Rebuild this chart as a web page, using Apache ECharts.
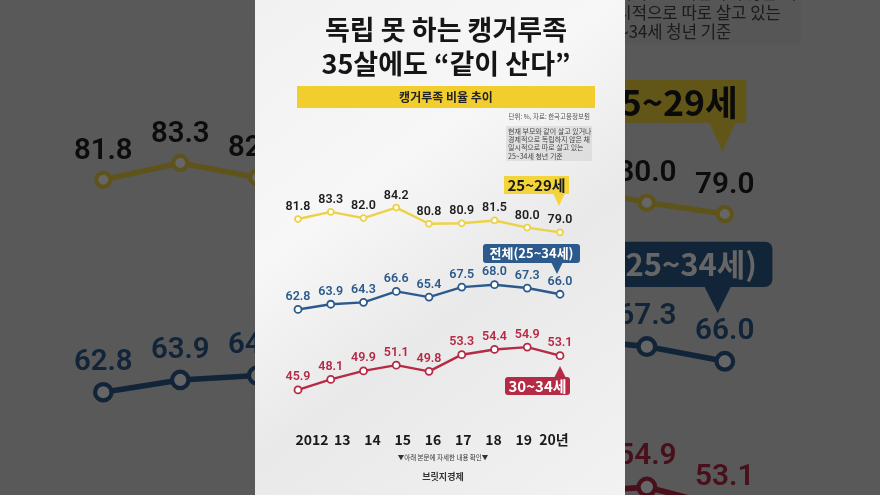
<!DOCTYPE html>
<html><head><meta charset="utf-8">
<script src="https://cdn.jsdelivr.net/npm/echarts@6/dist/echarts.min.js"></script>
<style>html,body{margin:0;padding:0;background:#555}#c{width:880px;height:495px}</style>
</head><body><div id="c"></div><script>
// ---- data ----
const years = ['2012','13','14','15','16','17','18','19','20년'];
const age2529 = [81.8, 83.3, 82.0, 84.2, 80.8, 80.9, 81.5, 80.0, 79.0];
const total   = [62.8, 63.9, 64.3, 66.6, 65.4, 67.5, 68.0, 67.3, 66.0];
const age3034 = [45.9, 48.1, 49.9, 51.1, 49.8, 53.3, 54.4, 54.9, 53.1];
const titleLines = ['독립 못 하는 캥거루족', '35살에도 “같이 산다”'];
const bannerText = '캥거루족 비율 추이';
const unitText = '단위: %, 자료: 한국고용정보원';
const noteLines = ['현재 부모와 같이 살고 있거나', '경제적으로 독립하지 않은 채', '일시적으로 따로 살고 있는', '25~34세 청년 기준'];
const calloutTexts = ['25~29세', '전체(25~34세)', '30~34세'];
const footerNote = '▼아래 본문에 자세한 내용 확인▼';
const sourceText = '브릿지경제';

// ---- styles ----
const KR = '"Noto Sans CJK KR", sans-serif';
const NUM = 'Roboto, "Noto Sans CJK KR", sans-serif';
const YEL = '#ecd245', BLUE = '#2c5a8c', RED = '#b52a45';
const YMIN = 40, YMAX = 90;
const G = {left: 298, top: 180, width: 262, height: 238};
const STEP = G.width / (years.length - 1);
const LEFT_VIEW = {s: 2.35, ox: -597, oy: -335, i0: 0, i1: 2, ymin: 56};
const RIGHT_VIEW = {s: 2.38, ox: -608, oy: -339, i0: 6, i1: 8, ymin: 40};

function decor(z) {
  const t = (text, x, y, font, fill, align, va) => ({type: 'text', z, silent: true,
    style: {text, x, y, font, fill, align: align || 'center', verticalAlign: va || 'middle'}});
  const els = [];
  els.push(t(titleLines[0], 446, 30, 'bold 27px ' + KR, '#151515'));
  els.push(t(titleLines[1], 446, 64, 'bold 27px ' + KR, '#151515'));
  els.push({type: 'rect', z, shape: {x: 297, y: 86, width: 298, height: 22}, style: {fill: '#f1cd2e'}});
  els.push(t(bannerText, 446, 97, 'bold 12px ' + KR, '#222'));
  els.push(t(unitText, 590, 117, '6.5px ' + KR, '#555', 'right'));
  els.push({type: 'rect', z, shape: {x: 506, y: 126, width: 86, height: 35}, style: {fill: 'rgba(205,205,205,0.45)'}});
  noteLines.forEach((l, i) => els.push(t(l, 508, 131 + i * 8.3, '7px ' + KR, '#444', 'left')));
  // yellow callout
  els.push({type: 'rect', z, shape: {x: 504, y: 176, width: 65, height: 18}, style: {fill: '#f3d43a'}});
  els.push({type: 'polygon', z, shape: {points: [[553, 193], [565, 193], [559, 206]]}, style: {fill: '#f3d43a'}});
  els.push(t(calloutTexts[0], 536.5, 185.5, 'bold 15px ' + KR, '#1a1a1a'));
  // blue callout
  els.push({type: 'rect', z, shape: {x: 483, y: 244, width: 97, height: 19, r: 3}, style: {fill: BLUE}});
  els.push({type: 'polygon', z, shape: {points: [[551, 262], [563, 262], [557, 274]]}, style: {fill: BLUE}});
  els.push(t(calloutTexts[1], 531.5, 253.5, 'bold 13px ' + KR, '#fff'));
  // red callout
  els.push({type: 'rect', z, shape: {x: 505, y: 377, width: 65, height: 18, r: 3}, style: {fill: RED}});
  els.push({type: 'polygon', z, shape: {points: [[554, 378], [566, 378], [560, 366]]}, style: {fill: RED}});
  els.push(t(calloutTexts[2], 537.5, 386, 'bold 15px ' + KR, '#fff'));
  // footer
  els.push(t(footerNote, 443, 458, '6.5px ' + KR, '#333'));
  els.push(t(sourceText, 443, 477, 'bold 9px ' + KR, '#333'));
  return els;
}

function mk(data, color, labelColor, symSize, xi, s, z) {
  return {type: 'line', data, xAxisIndex: xi, yAxisIndex: xi, z, silent: true, animation: false,
    symbol: 'circle', symbolSize: symSize * s, showAllSymbol: true, clip: true,
    lineStyle: {color, width: 2.4 * s},
    itemStyle: {color: '#fff', borderColor: color, borderWidth: 1.8 * s},
    label: {show: true, position: 'top', distance: 2 * s, color: labelColor, fontSize: 12.5 * s,
      fontWeight: 600, fontFamily: NUM, formatter: p => Number(p.value).toFixed(1)},
    emphasis: {disabled: true}};
}
function sideGrid(v) {
  return {outerBoundsMode: 'none', containLabel: false,
    left: (G.left + v.i0 * STEP) * v.s + v.ox, top: G.top * v.s + v.oy,
    width: (v.i1 - v.i0) * STEP * v.s,
    height: G.height * v.s * (YMAX - v.ymin) / (YMAX - YMIN)};
}
const hiddenX = (gi, extra) => Object.assign({gridIndex: gi, type: 'category', data: years, boundaryGap: false, show: false}, extra || {});
const hiddenY = (gi, min) => ({gridIndex: gi, type: 'value', min: min, max: YMAX, show: false, splitLine: {show: false}});

const grids = [
  Object.assign({outerBoundsMode: 'none'}, G),
  {outerBoundsMode: 'none', left: 312, top: G.top, width: 242, height: G.height},
  sideGrid(LEFT_VIEW),
  sideGrid(RIGHT_VIEW)
];

const series = [];
[[2, LEFT_VIEW], [3, RIGHT_VIEW]].forEach(([xi, v]) => {
  series.push(mk(age2529, YEL, '#1e1e1e', 6, xi, v.s, 1));
  series.push(mk(total, BLUE, BLUE, 7, xi, v.s, 1));
  series.push(mk(age3034, RED, RED, 7, xi, v.s, 1));
});
series.push(mk(age2529, YEL, '#1e1e1e', 6, 0, 1, 10));
series.push(mk(total, BLUE, BLUE, 7, 0, 1, 10));
series.push(mk(age3034, RED, RED, 7, 0, 1, 10));

const panelFill = new echarts.graphic.LinearGradient(0, 0, 1, 1, [
  {offset: 0, color: '#f1f1f1'}, {offset: 0.35, color: '#f7f7f7'},
  {offset: 0.6, color: '#e9e9e9'}, {offset: 1, color: '#f2f2f2'}]);

const graphic = [
  {type: 'group', x: RIGHT_VIEW.ox, y: RIGHT_VIEW.oy, scaleX: RIGHT_VIEW.s, scaleY: RIGHT_VIEW.s, z: 1, children: decor(1)},
  {type: 'rect', z: 5, silent: true, shape: {x: 0, y: 0, width: 255, height: 495}, style: {fill: 'rgba(0,0,0,0.6)'}},
  {type: 'rect', z: 5, silent: true, shape: {x: 625, y: 0, width: 255, height: 495}, style: {fill: 'rgba(0,0,0,0.6)'}},
  {type: 'rect', z: 6, silent: true, shape: {x: 255, y: 0, width: 370, height: 495}, style: {fill: panelFill}},
  {type: 'group', z: 11, children: decor(11)}
];

const chart = echarts.init(document.getElementById('c'), null, {renderer: 'canvas'});
chart.setOption({
  animation: false,
  backgroundColor: '#dedede',
  grid: grids,
  xAxis: [
    hiddenX(0),
    {gridIndex: 1, type: 'category', data: years, boundaryGap: false, z: 10,
      axisLine: {show: false}, axisTick: {show: false}, splitLine: {show: false},
      axisLabel: {interval: 0, margin: 15, fontSize: 14, fontWeight: 'bold', color: '#1a1a1a', fontFamily: KR}},
    hiddenX(2, {min: LEFT_VIEW.i0, max: LEFT_VIEW.i1}),
    hiddenX(3, {min: RIGHT_VIEW.i0, max: RIGHT_VIEW.i1})
  ],
  yAxis: [hiddenY(0, YMIN), hiddenY(1, YMIN), hiddenY(2, LEFT_VIEW.ymin), hiddenY(3, RIGHT_VIEW.ymin)],
  series,
  graphic
});
</script></body></html>
